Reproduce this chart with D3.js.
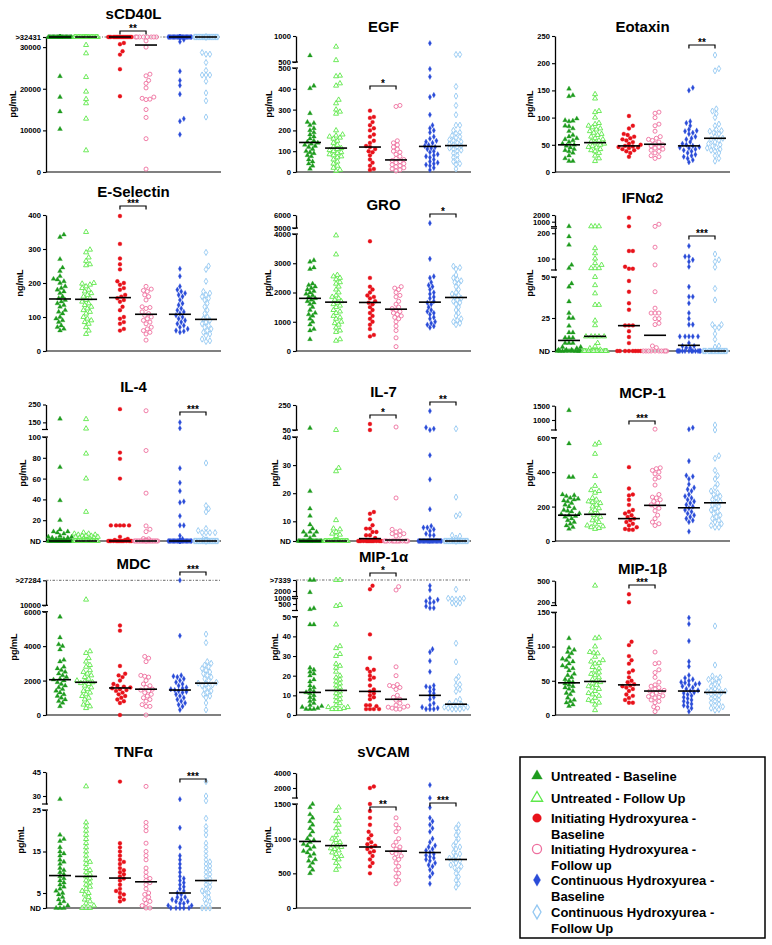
<!DOCTYPE html>
<html>
<head>
<meta charset="utf-8">
<script src="https://d3js.org/d3.v7.min.js"></script>
<style>
  body { margin: 0; background: #fff; }
  svg text { font-family: "Liberation Sans", Arial, Helvetica, sans-serif; font-weight: bold; fill: #000; }
  .tick text { font-size: 7.6px; }
  .title { font-size: 15px; }
  .ylab { font-size: 9px; }
  .stars { font-size: 10px; }
  .legend text { font-size: 13px; }
</style>
</head>
<body>
<svg id="chart" width="772" height="945"></svg>
<script>
// groups, in plotting order
const groupNames = ["Untreated - Baseline", "Untreated - Follow Up",
  "Initiating Hydroxyurea - Baseline", "Initiating Hydroxyurea - Follow up",
  "Continuous Hydroxyurea - Baseline", "Continuous Hydroxyurea - Follow Up"];

// ---- values (one list per group) ----
// sCD40L: cap counts = points sitting on the ">32431" line
const sCD40L = [
  [23000, 18000, 14500, 10300],
  [30500, 28500, 22800, 19300, 17500, 16500, 12800, 5200],
  [31000, 30700, 29000, 28200, 24700, 18200],
  [31500, 30000, 23500, 23100, 22000, 21300, 20200, 18000, 17700, 17500, 17400, 15000, 13100, 8000, 700],
  [31800, 31300, 24200, 22000, 20800, 18700, 12800, 12200, 9000],
  [28300, 28300, 28700, 26300, 24400, 23300, 23300, 23300, 21800, 19000, 17100, 13200]];
const sCD40L_cap = [30, 30, 18, 8, 25, 25];
const sCD40L_med = [32431, 32431, 32431, 30500, 32431, 32431];

const EGF = [
  [625, 414, 402, 282, 240, 235, 225, 210, 200, 190, 180, 170, 160, 150, 145, 140, 135, 130, 125, 120, 110, 100, 95, 90, 80, 75, 60, 50, 40, 30, 15],
  [794, 535, 463, 460, 426, 415, 347, 330, 300, 290, 280, 200, 180, 175, 170, 165, 160, 150, 140, 130, 120, 115, 110, 105, 100, 95, 90, 85, 80, 75, 70, 60, 50, 40, 30, 20, 10, 5],
  [295, 265, 260, 240, 225, 210, 200, 180, 170, 150, 140, 125, 120, 110, 100, 95, 80, 60, 45, 30, 15, 10],
  [320, 315, 150, 140, 130, 120, 110, 100, 95, 85, 75, 65, 60, 55, 50, 45, 40, 35, 30, 25, 20, 15, 10, 5],
  [862, 495, 458, 370, 360, 275, 225, 210, 200, 190, 170, 160, 150, 145, 140, 130, 125, 120, 115, 110, 100, 95, 85, 80, 75, 70, 60, 50, 45, 40, 35, 30, 20, 10],
  [644, 644, 411, 365, 320, 275, 225, 225, 200, 190, 185, 175, 170, 165, 155, 150, 145, 140, 135, 130, 125, 120, 115, 110, 105, 100, 90, 80, 70, 60, 50, 40, 35, 15]];
const EGF_med = [142, 115, 120, 58, 123, 127];

const Eotaxin = [
  [153, 141, 139, 98, 95, 94, 93, 85, 84, 80, 75, 68, 65, 62, 60, 58, 55, 52, 50, 48, 45, 42, 40, 38, 35, 30, 25, 20, 20],
  [143, 135, 112, 110, 100, 90, 88, 85, 82, 80, 78, 75, 72, 70, 68, 65, 62, 60, 58, 56, 54, 52, 50, 48, 46, 45, 42, 40, 38, 35, 30, 25, 20],
  [103, 85, 80, 70, 68, 65, 62, 60, 58, 55, 52, 50, 48, 47, 46, 45, 44, 42, 40, 38, 35, 28],
  [110, 108, 100, 88, 85, 75, 65, 62, 60, 58, 55, 52, 50, 48, 46, 44, 42, 40, 38, 35, 30, 28, 25],
  [155, 150, 93, 90, 85, 78, 76, 75, 72, 70, 65, 62, 60, 55, 52, 50, 48, 46, 45, 44, 42, 40, 38, 35, 32, 30, 28, 25, 22, 18],
  [215, 190, 186, 116, 112, 107, 100, 88, 85, 78, 76, 75, 72, 70, 65, 62, 60, 58, 55, 52, 50, 48, 45, 44, 42, 40, 38, 35, 30, 25, 20]];
const Eotaxin_med = [50, 54, 48, 51, 48, 62];

const ESelectin = [
  [342, 335, 270, 245, 235, 220, 212, 210, 205, 200, 190, 185, 180, 175, 170, 160, 155, 150, 145, 140, 135, 130, 120, 115, 110, 100, 95, 90, 85, 75, 70, 65, 60],
  [350, 298, 290, 275, 265, 255, 252, 200, 198, 195, 190, 185, 180, 175, 170, 165, 160, 155, 150, 145, 140, 135, 130, 125, 120, 115, 110, 100, 95, 90, 85, 80, 70, 60, 50],
  [397, 315, 272, 255, 240, 205, 200, 195, 185, 180, 165, 160, 155, 150, 145, 130, 120, 100, 95, 85, 80, 65, 60],
  [190, 182, 178, 175, 165, 160, 150, 130, 128, 125, 115, 110, 105, 100, 95, 90, 85, 80, 70, 65, 60, 55, 50, 32],
  [242, 220, 190, 180, 175, 170, 165, 160, 150, 140, 135, 125, 120, 115, 110, 105, 100, 95, 90, 85, 80, 75, 70, 65, 60, 58, 55],
  [290, 250, 240, 205, 175, 170, 165, 160, 155, 150, 140, 130, 120, 110, 100, 95, 90, 85, 80, 75, 70, 65, 60, 55, 50, 45, 35, 30, 28]];
const ESelectin_med = [153, 152, 157, 108, 108, 93];

const GRO = [
  [3100, 3050, 2850, 2800, 2300, 2250, 2200, 2150, 2100, 2050, 2000, 1950, 1900, 1850, 1800, 1750, 1700, 1650, 1600, 1500, 1400, 1300, 1250, 1200, 1100, 1000, 900, 750, 700, 400],
  [3950, 3300, 2600, 2550, 2500, 2450, 2350, 2300, 2200, 2100, 2000, 1900, 1850, 1800, 1750, 1700, 1650, 1600, 1550, 1500, 1400, 1350, 1300, 1200, 1150, 1100, 1000, 950, 900, 800, 700, 650, 400, 350],
  [3750, 2500, 2200, 2100, 2000, 1900, 1850, 1800, 1700, 1650, 1600, 1500, 1400, 1300, 1200, 1100, 1000, 900, 750, 550, 500],
  [2200, 2150, 2100, 2000, 1900, 1850, 1700, 1600, 1500, 1450, 1400, 1350, 1300, 1250, 1200, 1150, 1100, 1000, 850, 700, 450, 150],
  [5375, 3150, 2550, 2500, 2350, 2250, 2200, 2100, 2000, 1950, 1850, 1800, 1700, 1650, 1600, 1500, 1400, 1350, 1300, 1250, 1150, 1100, 1000, 950, 900, 850, 800],
  [2900, 2850, 2800, 2600, 2500, 2450, 2400, 2350, 2300, 2200, 2100, 2000, 1950, 1900, 1850, 1800, 1750, 1700, 1650, 1600, 1500, 1400, 1300, 1200, 1100, 1050, 1000, 950, 900]];
const GRO_med = [1800, 1670, 1660, 1430, 1670, 1830];

// ND counts = points drawn on the ND line
const IFNa2 = [
  [300, 187, 154, 75, 62, 46, 44, 35, 28, 25, 25, 19, 14, 14, 10, 10, 10, 6, 6, 6, 3, 3, 2, 1, 1, 1],
  [300, 300, 300, 141, 121, 100, 82, 75, 62, 62, 62, 50, 45, 40, 33, 33, 23, 19.5, 11, 11, 11, 11, 11, 6, 3.5, 2, 1],
  [1600, 300, 130, 130, 68, 60, 60, 47.6, 41, 34, 30, 19.4, 19.4, 19.4, 15, 10.6, 6],
  [620, 300, 145, 75, 41, 31, 28, 28, 28, 24.5, 24.5, 21, 20, 3.8, 2.5],
  [150, 108, 108, 95, 88, 68, 44, 38, 38, 34, 28, 24.5, 20, 20, 11, 11, 11, 11, 11, 6, 3.8, 3.8, 2.5, 2.5],
  [118, 95, 88, 66, 43, 36, 20, 20, 17.7, 17.7, 13, 8.8, 3.8, 3]];
const IFNa2_nd = [10, 15, 8, 10, 12, 18];
const IFNa2_med = [8, 11.1, 19.2, 11.9, 4.3, 0];

const IL4 = [
  [170, 71, 39, 20, 11, 9, 9, 8, 7, 5, 4, 4, 3, 3, 2, 2, 1, 1, 1],
  [168, 115, 84, 60, 28, 8, 7, 7, 6, 6, 5, 5, 5, 4, 4, 3, 3, 2, 2, 1, 1],
  [224, 85, 79, 60, 15, 15, 15, 15, 15, 4, 2, 1, 1],
  [215, 87, 46, 14.5, 11.3, 9, 2.3, 2, 1],
  [150, 117, 70, 56, 48, 38, 37, 24, 15, 15, 5, 2, 1],
  [75, 34, 31, 28, 12, 10, 8, 8, 8, 8, 2, 1, 1]];
const IL4_nd = [20, 22, 15, 20, 25, 25];
const IL4_med = [0, 0, 0, 0, 0, 0];

const IL7 = [
  [66, 20.7, 14.5, 11.9, 8.3, 6.3, 4.6, 4.6, 4.6, 2.9, 2.9, 1.5],
  [45, 29, 27.8, 10.4, 6.3, 5.9, 4.6, 3.7, 3.2, 2.5],
  [98, 45, 13.3, 12.7, 10.7, 8, 6.3, 6.3, 4.6, 4.6, 2.9, 2.9, 1.5],
  [74, 18.3, 5.9, 5.1, 4.6, 3.7, 3.7, 2.9, 2.5],
  [202, 70, 60, 45, 33.5, 24.9, 14.3, 7.6, 6.8, 6.8, 5.9, 5.1, 3.7, 2.9, 2.9],
  [60, 18.6, 12.4, 11.9, 2.9, 2.5, 1.5]];
const IL7_nd = [25, 25, 15, 15, 20, 25];
const IL7_med = [0, 0, 1.2, 0.5, 0.8, 0];

const MCP1 = [
  [1339, 566, 371, 371, 270, 265, 260, 250, 245, 240, 235, 230, 220, 210, 200, 190, 180, 175, 170, 160, 155, 150, 145, 140, 130, 120, 110, 100, 90, 80, 70],
  [570, 560, 506, 377, 320, 295, 290, 280, 250, 240, 230, 225, 220, 210, 200, 190, 180, 170, 160, 150, 140, 130, 120, 110, 100, 90, 85, 80, 75, 70],
  [429, 305, 270, 265, 240, 210, 180, 170, 160, 150, 140, 130, 120, 110, 100, 90, 80, 70, 65, 65],
  [680, 425, 420, 410, 400, 390, 370, 360, 325, 270, 255, 250, 240, 230, 220, 210, 200, 190, 175, 150, 130, 110, 100, 90],
  [730, 674, 464, 380, 375, 360, 330, 310, 300, 290, 270, 260, 250, 240, 230, 220, 210, 200, 190, 180, 170, 160, 150, 140, 130, 120, 110, 55],
  [825, 640, 495, 480, 410, 380, 360, 330, 310, 290, 280, 270, 260, 250, 240, 230, 225, 210, 200, 190, 180, 170, 160, 150, 140, 130, 120, 110, 100, 90, 80, 80]];
const MCP1_med = [150, 155, 130, 207, 193, 222];

const MDC = [
  [5700, 4500, 4100, 4000, 3800, 3200, 3100, 2800, 2700, 2600, 2500, 2400, 2300, 2200, 2100, 2050, 2000, 1900, 1800, 1700, 1600, 1500, 1400, 1300, 1200, 1100, 1000, 900, 800, 700, 500],
  [13900, 3700, 3600, 3300, 3100, 2900, 2800, 2600, 2500, 2400, 2300, 2200, 2100, 2000, 1950, 1900, 1850, 1800, 1700, 1600, 1500, 1400, 1300, 1200, 1100, 1000, 900, 700, 600, 500, 400],
  [5200, 4900, 2850, 2400, 2300, 2200, 2000, 1800, 1700, 1650, 1600, 1550, 1500, 1450, 1400, 1300, 1200, 1100, 1000, 900, 800, 700, 0],
  [3400, 3300, 3100, 2300, 2250, 2200, 2000, 1800, 1700, 1600, 1500, 1450, 1400, 1300, 1200, 1100, 1000, 900, 800, 600, 500, 500, 0],
  [27284, 4600, 2300, 2250, 2200, 2100, 2000, 1900, 1800, 1700, 1600, 1550, 1500, 1450, 1400, 1350, 1300, 1200, 1100, 1000, 900, 800, 700, 600, 500, 300],
  [4700, 4200, 3100, 3000, 2900, 2800, 2700, 2600, 2500, 2400, 2300, 2200, 2100, 2000, 1900, 1850, 1800, 1750, 1700, 1600, 1500, 1400, 1300, 1200, 1100, 1000, 700, 300]];
const MDC_med = [2050, 1900, 1570, 1500, 1450, 1850];

const MIP1a = [
  [7339, 7339, 1882, 335, 296, 46, 46, 24, 23, 22, 21, 20, 18, 17, 15, 14, 13, 12, 11.5, 11, 10, 9, 8, 7, 6, 5, 4.5, 4, 3.5, 3, 3, 3],
  [7339, 7339, 461, 423, 46, 35, 34, 31, 30, 26, 25, 24, 22, 20, 19, 18, 17, 16, 15, 14, 13, 12, 11, 10, 9, 8, 7, 6, 5, 4, 4, 3.5, 3, 3, 3],
  [4572, 2825, 41, 29, 23.5, 23, 22, 20, 19, 18, 15, 13, 12, 11, 10, 9, 8, 5, 5, 4.5, 3, 3, 3, 3],
  [4087, 2485, 24.5, 20, 15.5, 15, 14.5, 14, 13, 10, 9, 8, 7.5, 6, 5, 4.5, 4, 4, 3.5, 3, 3],
  [4572, 2485, 1000, 877, 737, 675, 588, 411, 346, 346, 33.5, 32, 27.5, 22, 15, 14.5, 14, 13, 12, 11, 10, 9, 8, 6, 5, 4, 3.5, 3, 3, 3],
  [2825, 1000, 1000, 939, 939, 900, 588, 500, 588, 36.5, 27, 19.5, 18, 15.5, 15, 13, 12, 8, 7, 6, 5.5, 5, 4.5, 4, 4, 3.5, 3.5, 3, 3, 3]];
const MIP1a_med = [11.5, 12.5, 12, 8, 10, 5.5];

const MIP1b = [
  [112, 98, 95, 92, 90, 85, 82, 80, 78, 75, 72, 70, 68, 65, 60, 58, 55, 52, 50, 48, 46, 44, 42, 40, 38, 35, 32, 30, 25, 22, 20, 18, 15, 13],
  [431, 113, 112, 100, 92, 91, 90, 85, 80, 78, 76, 75, 70, 68, 65, 62, 60, 58, 55, 52, 50, 48, 46, 44, 42, 40, 38, 35, 32, 30, 28, 25, 22, 20, 18, 15, 7],
  [311, 200, 107, 102, 86, 80, 75, 65, 62, 55, 50, 48, 45, 43, 42, 40, 38, 35, 30, 28, 25, 22, 18, 18],
  [92, 76, 75, 66, 62, 55, 48, 44, 42, 40, 38, 36, 35, 34, 32, 30, 28, 27, 26, 25, 22, 20, 18, 12, 10, 5],
  [142, 133, 108, 78, 71, 58, 54, 52, 50, 48, 47, 46, 45, 44, 42, 40, 38, 36, 35, 33, 32, 30, 28, 26, 24, 22, 20, 18, 16, 14, 12, 10, 5],
  [130, 73, 57, 55, 53, 52, 50, 48, 45, 42, 40, 38, 36, 35, 34, 33, 32, 30, 28, 26, 24, 22, 20, 18, 16, 14, 12, 10, 8, 7]];
const MIP1b_med = [47, 49, 44, 35, 35, 33];

const TNFa = [
  [28, 19, 18, 17.5, 16, 15, 14.5, 14, 13, 12.5, 12, 11, 10.5, 10, 9.5, 9, 8.5, 8, 7.5, 7, 6.5, 6, 5.5, 5, 4.5, 3.6, 2.8, 2.2, 1.5, 0.8],
  [36, 22, 21, 20, 19, 18, 17, 16, 15, 14, 13, 12.5, 12, 11, 10.5, 10, 9.5, 9, 8.5, 8, 7.5, 7, 6.5, 6, 5.5, 5, 4.5, 3.6, 2.8, 2.2, 1.5, 0.8],
  [39, 17, 16, 15, 14, 13, 12.5, 12, 11, 10.5, 10, 9.5, 9, 8.5, 8, 7, 6, 5.5, 5, 4.5, 3.6, 2.8, 2.2],
  [36, 22, 21, 20, 17, 15, 14, 13, 11, 10, 9, 8.5, 8, 7.5, 7, 6, 5, 4.5, 3.6, 2.8, 2.2, 1.5, 0.8],
  [28, 20.7, 16, 14, 13, 12, 11, 10, 9, 8.5, 8, 7.5, 7, 6.5, 6, 5.5, 5, 4.5, 3.6, 3.6, 2.8, 2.8, 2.2, 2.2, 1.5, 1.5, 0.8, 0.8],
  [39, 30, 27, 23, 21, 20, 19, 17, 16, 15, 14, 13, 12.5, 12, 11.5, 11, 10.5, 10, 9.5, 9, 8.5, 8, 7.5, 7, 6.5, 6, 5.5, 5, 4.5, 3.6, 2.8, 2.2, 1.5]];
const TNFa_nd = [3, 3, 0, 2, 5, 3];
const TNFa_med = [9.2, 9, 8.6, 7.7, 5, 8];

const sVCAM = [
  [1500, 1450, 1350, 1300, 1250, 1200, 1150, 1100, 1050, 1000, 980, 950, 920, 900, 880, 850, 820, 800, 780, 750, 700, 680, 650, 600, 550, 500],
  [1450, 1400, 1300, 1250, 1200, 1150, 1100, 1050, 1000, 980, 950, 920, 900, 880, 860, 850, 830, 800, 780, 750, 720, 700, 650, 600, 550],
  [2200, 2000, 1500, 1400, 1300, 1200, 1100, 1050, 1000, 950, 920, 900, 880, 850, 820, 800, 750, 700, 650, 600, 500],
  [1300, 1200, 1150, 1100, 1000, 950, 900, 880, 850, 820, 800, 780, 750, 720, 700, 650, 600, 550, 500, 450, 400, 350],
  [2400, 1600, 1450, 1300, 1250, 1200, 1150, 1100, 1000, 950, 900, 880, 850, 830, 800, 780, 760, 740, 720, 700, 680, 650, 620, 600, 550, 500, 450, 350],
  [1200, 1150, 1100, 1050, 1000, 950, 900, 880, 850, 800, 780, 750, 720, 700, 680, 650, 620, 600, 580, 550, 500, 450, 400, 350, 300]];
const sVCAM_med = [960, 900, 880, 820, 800, 700];

// ---- layout ----
const colX = [46, 296, 555];
const rowBase = [172, 351, 541, 715, 908];
const plotW = 175;
const slots = [0, 1, 2.3, 3.3, 4.6, 5.6];
const x = d3.scaleLinear().domain([0, 5.6]).range([14, 160]);

const look = [
  { type: d3.symbolTriangle, color: "#1e9b1e", filled: true,  size: 10 },
  { type: d3.symbolTriangle, color: "#5de84a", filled: false, size: 11 },
  { type: d3.symbolCircle,   color: "#e8121a", filled: true,  size: 12 },
  { type: d3.symbolCircle,   color: "#ee6f9e", filled: false, size: 13 },
  { type: d3.symbolDiamond,  color: "#2a4cd8", filled: true,  size: 9 },
  { type: d3.symbolDiamond,  color: "#94c8f2", filled: false, size: 11 }];

// segments: d = values, r = pixels above the x axis
const panels = [
  { title: "sCD40L", data: sCD40L, med: sCD40L_med, pile: sCD40L_cap, pileAt: 32431, cap: 32431,
    col: 0, row: 0, ty: 19, lx: -30,
    segs: [{ d: [0, 32431], r: [0, 135], ticks: [0, 10000, 20000, 30000, 32431] }],
    stars: [{ pair: 2, t: "**", h: 141 }] },
  { title: "EGF", data: EGF, med: EGF_med, col: 1, row: 0, ty: 32, lx: -24,
    segs: [{ d: [0, 500], r: [0, 104], ticks: [0, 100, 200, 300, 400, 500] },
           { d: [500, 1000], r: [110, 136], ticks: [500, 1000] }],
    stars: [{ pair: 2, t: "*", h: 86 }] },
  { title: "Eotaxin", data: Eotaxin, med: Eotaxin_med, col: 2, row: 0, ty: 32, lx: -22,
    segs: [{ d: [0, 250], r: [0, 136], ticks: [0, 50, 100, 150, 200, 250] }],
    stars: [{ pair: 4, t: "**", h: 127 }] },
  { title: "E-Selectin", unit: "ng/mL", data: ESelectin, med: ESelectin_med, col: 0, row: 1, ty: 197, lx: -23,
    segs: [{ d: [0, 400], r: [0, 136], ticks: [0, 100, 200, 300, 400] }],
    stars: [{ pair: 2, t: "***", h: 145 }] },
  { title: "GRO", data: GRO, med: GRO_med, col: 1, row: 1, ty: 210, lx: -25,
    segs: [{ d: [0, 4000], r: [0, 117], ticks: [0, 1000, 2000, 3000, 4000] },
           { d: [5000, 6000], r: [123, 136], ticks: [5000, 6000] }],
    stars: [{ pair: 4, t: "*", h: 137 }] },
  { title: "IFNα2", data: IFNa2, med: IFNa2_med, pile: IFNa2_nd, pileAt: 0, nd: true, col: 2, row: 1, ty: 203, lx: -22,
    segs: [{ d: [0, 25, 50], r: [0, 33, 74], ticks: [0, 25, 50] },
           { d: [55, 220], r: [81, 122.8], ticks: [100, 200] },
           { d: [250, 2000], r: [124.3, 136], ticks: [1000, 2000] }],
    stars: [{ pair: 4, t: "***", h: 115 }] },
  { title: "IL-4", data: IL4, med: IL4_med, pile: IL4_nd, pileAt: 0, nd: true, col: 0, row: 2, ty: 392, lx: -20,
    segs: [{ d: [0, 100], r: [0, 104], ticks: [0, 20, 40, 60, 80, 100] },
           { d: [110, 250], r: [111.5, 136.5], ticks: [150, 250] }],
    stars: [{ pair: 4, t: "***", h: 129 }] },
  { title: "IL-7", data: IL7, med: IL7_med, pile: IL7_nd, pileAt: 0, nd: true, col: 1, row: 2, ty: 397, lx: -18,
    segs: [{ d: [0, 10, 40], r: [0, 19.7, 104], ticks: [0, 10, 20, 30, 40] },
           { d: [50, 250], r: [111, 136], ticks: [50, 250] }],
    stars: [{ pair: 2, t: "*", h: 126 }, { pair: 4, t: "**", h: 139 }] },
  { title: "MCP-1", data: MCP1, med: MCP1_med, col: 2, row: 2, ty: 398, lx: -22,
    segs: [{ d: [0, 600], r: [0, 103.3], ticks: [0, 200, 400, 600] },
           { d: [650, 1500], r: [111, 135.3], ticks: [1000, 1500] }],
    stars: [{ pair: 2, t: "***", h: 120 }] },
  { title: "MDC", data: MDC, med: MDC_med, cap: 27284, col: 0, row: 3, ty: 569, lx: -29,
    segs: [{ d: [0, 6000], r: [0, 103.3], ticks: [0, 2000, 4000, 6000] },
           { d: [10000, 27284], r: [109.7, 134.7], ticks: [10000, 27284] }],
    stars: [{ pair: 4, t: "***", h: 143 }] },
  { title: "MIP-1α", data: MIP1a, med: MIP1a_med, cap: 7339, col: 1, row: 3, ty: 562, lx: -18,
    segs: [{ d: [0, 50], r: [0, 98.3], ticks: [0, 10, 20, 30, 40, 50] },
           { d: [250, 500, 1000], r: [104.5, 111, 116.7], ticks: [500, 1000] },
           { d: [1500, 2000, 7339], r: [118.5, 124, 135], ticks: [2000, 7339] }],
    stars: [{ pair: 2, t: "*", h: 142 }] },
  { title: "MIP-1β", data: MIP1b, med: MIP1b_med, col: 2, row: 3, ty: 574, lx: -22,
    segs: [{ d: [0, 150], r: [0, 102.7], ticks: [0, 50, 100, 150] },
           { d: [155, 500], r: [109.5, 134.3], ticks: [200, 500] }],
    stars: [{ pair: 2, t: "***", h: 130 }] },
  { title: "TNFα", data: TNFa, med: TNFa_med, pile: TNFa_nd, pileAt: 0, nd: true, col: 0, row: 4, ty: 757, lx: -22,
    segs: [{ d: [0, 5, 25], r: [0, 15, 98], ticks: [0, 5, 15, 25] },
           { d: [25, 45], r: [104, 136], ticks: [30, 45] }],
    stars: [{ pair: 4, t: "***", h: 129 }] },
  { title: "sVCAM", unit: "ng/mL", data: sVCAM, med: sVCAM_med, col: 1, row: 4, ty: 757, lx: -25,
    segs: [{ d: [0, 1500], r: [0, 104], ticks: [0, 500, 1000, 1500] },
           { d: [1600, 2000, 4000], r: [110, 120, 135], ticks: [2000, 4000] }],
    stars: [{ pair: 2, t: "**", h: 101 }, { pair: 4, t: "***", h: 105 }] }
];

const svg = d3.select("#chart");

// simple beeswarm: pushes points sideways until they stop overlapping
function swarm(ys) {
  const R = 3.9, MAX = 12, STEP = 1.3;
  const cand = [0];
  for (let k = STEP; k <= MAX; k += STEP) cand.push(k, -k);
  const order = d3.range(ys.length).sort((a, b) => ys[b] - ys[a]);
  const placed = [], xs = [];
  order.forEach(i => {
    const y = ys[i];
    const near = placed.filter(p => Math.abs(p.y - y) < R);
    let best = 0, bestD = -1;
    for (const c of cand) {
      let dmin = Infinity;
      near.forEach(p => { dmin = Math.min(dmin, Math.hypot(p.x - c, p.y - y)); });
      if (dmin >= R) { best = c; break; }
      if (dmin > bestD) { bestD = dmin; best = c; }
    }
    xs[i] = best;
    placed.push({ x: best, y });
  });
  return xs;
}

panels.forEach(p => {
  const x0 = colX[p.col], base = rowBase[p.row];
  const g = svg.append("g");
  const segs = p.segs.map(s => Object.assign({}, s, {
    scale: d3.scaleLinear().domain(s.d).range(s.r.map(h => base - h))
  }));
  const yOf = v => {
    for (const s of segs) {
      if (v <= s.d[s.d.length - 1]) return s.scale(Math.max(v, s.d[0]));
    }
    const l = segs[segs.length - 1];
    return l.scale(l.d[l.d.length - 1]);
  };
  const fmt = v => (p.nd && v === 0) ? "ND" : (p.cap && v === p.cap) ? ">" + v : String(v);

  // x axis
  g.append("line").attr("x1", x0).attr("x2", x0 + plotW)
    .attr("y1", base).attr("y2", base)
    .attr("stroke", "#808080").attr("stroke-width", 2);

  // y axis, one piece per segment
  segs.forEach((s, i) => {
    const a = g.append("g").attr("transform", `translate(${x0},0)`)
      .call(d3.axisLeft(s.scale).tickValues(s.ticks).tickSize(3).tickSizeOuter(0)
        .tickPadding(2).tickFormat(fmt));
    a.select(".domain").attr("stroke-width", 1.3);
    a.selectAll(".tick line").attr("stroke-width", 1.1);
    if (i > 0) {
      const lo = segs[i - 1];
      [lo.scale(lo.d[lo.d.length - 1]), s.scale(s.d[0])].forEach(yb => {
        g.append("line").attr("x1", x0 - 4).attr("x2", x0 + 2)
          .attr("y1", yb).attr("y2", yb).attr("stroke", "#000").attr("stroke-width", 1.2);
      });
    }
  });

  // dotted line at the top value cap
  if (p.cap) {
    g.append("line").attr("x1", x0).attr("x2", x0 + plotW)
      .attr("y1", yOf(p.cap)).attr("y2", yOf(p.cap))
      .attr("stroke", "#444").attr("stroke-width", 0.8)
      .attr("stroke-dasharray", "2.5,1.5,1,1.5");
  }

  // points
  p.data.forEach((vals, gi) => {
    const pts = vals.slice();
    if (p.pile) for (let k = 0; k < p.pile[gi]; k++) pts.push(p.pileAt);
    const ys = pts.map(yOf);
    const xs = swarm(ys);
    const cx = x0 + x(slots[gi]);
    const lk = look[gi];
    const sym = d3.symbol().type(lk.type).size(lk.size);
    g.append("g").selectAll("path").data(pts).join("path")
      .attr("d", sym)
      .attr("transform", (d, i) => `translate(${cx + xs[i]},${ys[i]})`)
      .attr("fill", lk.filled ? lk.color : "#fff")
      .attr("fill-opacity", lk.filled ? 1 : 0.6)
      .attr("stroke", lk.color)
      .attr("stroke-width", lk.filled ? 0.3 : 0.9);

    // median
    const my = yOf(p.med[gi]);
    g.append("line").attr("x1", cx - 11).attr("x2", cx + 11)
      .attr("y1", my).attr("y2", my)
      .attr("stroke", "#000").attr("stroke-width", 1.6);
  });

  // significance brackets
  p.stars.forEach(s => {
    const xa = x0 + x(slots[s.pair]), xb = x0 + x(slots[s.pair + 1]);
    const yb = base - s.h;
    g.append("path").attr("d", `M${xa},${yb + 3.5}V${yb}H${xb}V${yb + 3.5}`)
      .attr("fill", "none").attr("stroke", "#000").attr("stroke-width", 1.2);
    g.append("text").attr("class", "stars").attr("x", (xa + xb) / 2).attr("y", yb + 0.5)
      .attr("text-anchor", "middle").text(s.t);
  });

  // title and unit
  g.append("text").attr("class", "title").attr("x", x0 + plotW / 2).attr("y", p.ty)
    .attr("text-anchor", "middle").text(p.title);
  g.append("text").attr("class", "ylab")
    .attr("transform", `translate(${x0 + p.lx},${base - 68}) rotate(-90)`)
    .attr("text-anchor", "middle").text(p.unit || "pg/mL");
});

// legend
const legendLines = [["Untreated - Baseline"], ["Untreated - Follow Up"],
  ["Initiating Hydroxyurea -", "Baseline"], ["Initiating Hydroxyurea -", "Follow up"],
  ["Continuous Hydroxyurea -", "Baseline"], ["Continuous Hydroxyurea -", "Follow Up"]];
const legendY = [776, 798, 818, 849, 880, 912];
const lg = svg.append("g").attr("class", "legend");
lg.append("rect").attr("x", 520).attr("y", 757).attr("width", 245).attr("height", 181)
  .attr("fill", "none").attr("stroke", "#000").attr("stroke-width", 1.5);
legendLines.forEach((lines, i) => {
  const lk = look[i];
  lg.append("path").attr("d", d3.symbol().type(lk.type).size(lk.size * 5))
    .attr("transform", `translate(537,${legendY[i]})`)
    .attr("fill", lk.filled ? lk.color : "#fff")
    .attr("stroke", lk.color).attr("stroke-width", lk.filled ? 0.3 : 1.3);
  lines.forEach((t, j) => {
    lg.append("text").attr("x", 551).attr("y", legendY[i] + 4.5 + j * 16.5).text(t);
  });
});
</script>
</body>
</html>
